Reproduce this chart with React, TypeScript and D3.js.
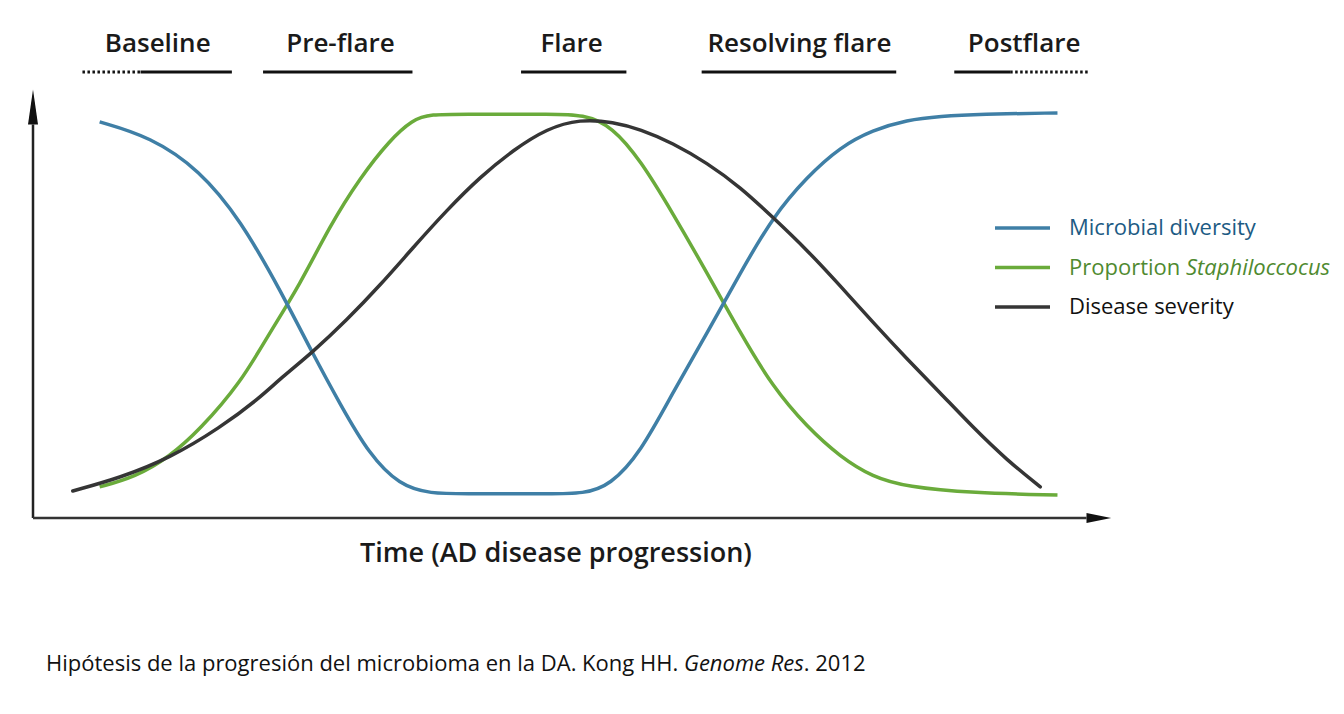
import React from "react";
import * as d3 from "d3";

// time (0-100) / value (0-100) pairs
const diversity: [number, number][] = [
  [6.2, 96.6], [10.9, 93.0], [15.5, 84.9], [19.3, 72.7], [23.0, 55.6],
  [26.0, 40.2], [28.6, 27.6], [31.3, 15.4], [34.1, 8.0], [36.9, 5.9],
  [40.5, 5.9], [44.1, 5.9], [47.7, 5.9],
  [51.3, 5.9], [53.7, 8.0], [56.5, 15.9], [59.5, 30.5], [62.7, 45.1],
  [65.8, 59.8], [68.8, 73.4], [72.0, 83.2], [75.1, 90.5], [78.1, 94.6],
  [81.3, 97.1], [84.4, 98.0], [88.1, 98.5], [95.3, 98.8],
];

const staph: [number, number][] = [
  [6.2, 7.6], [9.5, 10.0], [12.7, 14.9], [15.5, 21.5], [19.3, 32.9],
  [22.0, 45.1], [24.8, 56.8], [27.6, 71.2], [30.4, 82.9], [33.2, 92.2],
  [35.3, 97.1], [36.9, 98.5], [40.5, 98.5], [44.1, 98.5], [47.7, 98.5],
  [51.3, 98.5], [53.9, 95.4], [56.5, 87.3],
  [59.5, 74.4], [62.7, 59.8], [65.8, 45.1], [68.8, 32.0], [72.0, 22.2],
  [75.1, 14.9], [78.1, 10.0], [81.3, 7.6], [87.4, 6.1], [95.3, 5.6],
];

const severity: [number, number][] = [
  [3.7, 6.6], [8.1, 9.8], [12.7, 14.6], [17.4, 22.0], [21.1, 29.3],
  [23.0, 34.0], [26.0, 40.4], [29.2, 48.3], [32.3, 56.8], [35.3, 65.8],
  [38.5, 75.1], [41.6, 83.2], [44.7, 89.8], [47.8, 95.0], [50.9, 97.3],
  [54.0, 96.6], [56.5, 94.8], [59.5, 91.5], [62.7, 86.6], [65.8, 80.7],
  [68.8, 73.4], [72.0, 65.4], [75.1, 56.6], [78.1, 47.8], [81.3, 38.8],
  [84.4, 30.5], [87.4, 22.2], [90.6, 14.1], [93.7, 7.6],
];

// phases: label, solid bar span, dotted extension (time units)
const phaseLabels = ["Baseline", "Pre-flare", "Flare", "Resolving flare", "Postflare"];
const phaseSolid: [number, number][] = [
  [10.0, 18.5], [21.4, 35.3], [45.4, 55.2], [62.2, 80.3], [85.7, 90.9],
];
const phaseDotted: ([number, number] | null)[] = [
  [4.6, 10.0], null, null, null, [90.9, 98.2],
];
const phaseCenter = [11.6, 28.6, 50.1, 71.3, 92.2];

const legendLabels = ["Microbial diversity", "Proportion ", "Disease severity"];

const W = 1344;
const H = 714;
const margin = { left: 33, right: 236, top: 108, bottom: 196 };

const lineColors = ["#3f7fa6", "#6aab3b", "#353535"];
const textColors = ["#1d5b84", "#4f8a30", "#111111"];

const App: React.FC = () => {
  const x = d3.scaleLinear().domain([0, 100]).range([margin.left, W - margin.right]);
  const y = d3.scaleLinear().domain([0, 100]).range([H - margin.bottom, margin.top]);
  const line = d3
    .line<[number, number]>()
    .x((d) => x(d[0]))
    .y((d) => y(d[1]))
    .curve(d3.curveBasis);

  const x0 = x(0);
  const y0 = y(0);
  const font = "'Open Sans', sans-serif";

  return (
    <div style={{ position: "absolute", left: 0, top: 0 }}>
      <svg width={W} height={H} style={{ display: "block", background: "#fff" }}>
        {/* phase labels */}
        {phaseLabels.map((p, i) => {
          const [a, b] = phaseSolid[i];
          const dot = phaseDotted[i];
          return (
            <g key={p}>
              <text x={x(phaseCenter[i])} y={52} textAnchor="middle" fontFamily={font}
                fontSize={26} fontWeight={600} fill="#1a1a1a">{p}</text>
              <line x1={x(a)} x2={x(b)} y1={72} y2={72} stroke="#111" strokeWidth={3} />
              {dot && (
                <line x1={x(dot[0])} x2={x(dot[1])} y1={72} y2={72} stroke="#111"
                  strokeWidth={3} strokeDasharray="2.5 2.5" />
              )}
            </g>
          );
        })}

        {/* axes */}
        <line x1={x0} x2={x0} y1={y0} y2={y(96)} stroke="#222" strokeWidth={2.5} />
        <path d={`M${x0 - 5},${y(96)} L${x0},${y(104.5)} L${x0 + 5},${y(96)} Z`} fill="#111" />
        <line x1={x0} x2={x(98)} y1={y0} y2={y0} stroke="#333" strokeWidth={2.5} />
        <path d={`M${x(98)},${y0 - 5} L${x(100.3)},${y0} L${x(98)},${y0 + 5} Z`} fill="#111" />

        {/* curves */}
        <path d={line(staph) ?? ""} fill="none" stroke={lineColors[1]} strokeWidth={3.5} />
        <path d={line(diversity) ?? ""} fill="none" stroke={lineColors[0]} strokeWidth={3.5} />
        <path d={line(severity) ?? ""} fill="none" stroke={lineColors[2]} strokeWidth={3.5}
          strokeLinecap="round" />

        {/* legend */}
        {legendLabels.map((l, i) => {
          const ly = 228 + i * 39.5;
          return (
            <g key={l}>
              <line x1={995} x2={1050} y1={ly} y2={ly} stroke={lineColors[i]} strokeWidth={3.5} />
              <text x={1069} y={ly + 7} fontFamily={font} fontSize={22} fill={textColors[i]}>
                {l}
                {i === 1 && <tspan fontStyle="italic">Staphiloccocus</tspan>}
              </text>
            </g>
          );
        })}

        {/* x axis title */}
        <text x={556} y={562} textAnchor="middle" fontFamily={font} fontSize={27}
          fontWeight={600} fill="#1a1a1a">Time (AD disease progression)</text>

        {/* caption */}
        <text x={46} y={671} fontFamily={font} fontSize={22} fill="#111">
          Hipótesis de la progresión del microbioma en la DA. Kong HH.{" "}
          <tspan fontStyle="italic">Genome Res</tspan>. 2012
        </text>
      </svg>
    </div>
  );
};

export default App;
